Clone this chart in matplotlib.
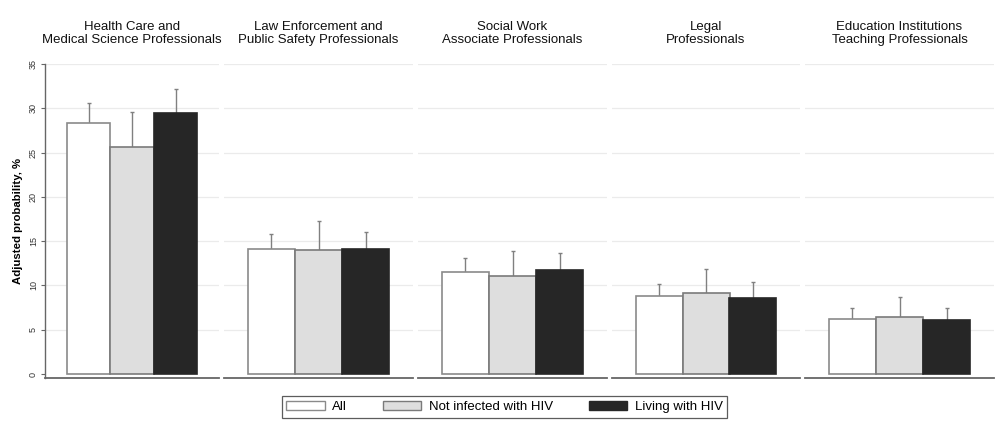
import matplotlib
matplotlib.use("Agg")
import matplotlib.pyplot as plt
from matplotlib.patches import Patch

plt.rcParams['font.family'] = ['Liberation Sans', 'DejaVu Sans']

# Occupation groups (panel titles)
occupations = [
    "Health Care and\nMedical Science Professionals",
    "Law Enforcement and\nPublic Safety Professionals",
    "Social Work\nAssociate Professionals",
    "Legal\nProfessionals",
    "Education Institutions\nTeaching Professionals",
]

series_names = ["All", "Not infected with HIV", "Living with HIV"]

# Adjusted probabilities (%) per occupation
all_vals = [28.3, 14.1, 11.5, 8.8, 6.2]
not_infected_vals = [25.6, 14.0, 11.1, 9.2, 6.4]
living_vals = [29.5, 14.1, 11.7, 8.6, 6.1]

# Upper confidence limits (%)
all_upper = [30.6, 15.8, 13.1, 10.2, 7.4]
not_infected_upper = [29.6, 17.3, 13.9, 11.9, 8.7]
living_upper = [32.2, 16.0, 13.7, 10.4, 7.5]

y_ticks = [0, 5, 10, 15, 20, 25, 30, 35]

values = [all_vals, not_infected_vals, living_vals]
uppers = [all_upper, not_infected_upper, living_upper]
fills = ["#ffffff", "#dedede", "#262626"]
edges = ["#8a8a8a", "#7a7a7a", "#262626"]

W, H = 998, 425
fig = plt.figure(figsize=(W / 100, H / 100), dpi=100)

# panel extents in pixels (left, right)
panel_px = [(45, 219), (224, 413), (418, 607), (612, 800), (805, 994)]
top_px, bottom_px = 64, 378

bar_w = 0.25
xs = [0.25, 0.5, 0.75]

for i, (l, r) in enumerate(panel_px):
    ax = fig.add_axes([l / W, 1 - bottom_px / H, (r - l) / W, (bottom_px - top_px) / H])
    ax.set_xlim(0, 1)
    ax.set_ylim(-0.45, 35)
    for g in y_ticks[1:]:
        ax.axhline(g, color="#ebebeb", lw=0.9, zorder=0)
    for s in range(3):
        v = values[s][i]
        u = uppers[s][i]
        ax.errorbar(xs[s], v, yerr=[[u - v], [u - v]], fmt="none",
                    ecolor="#808080", elinewidth=1.0, capsize=1.6,
                    capthick=1.0, zorder=1)
        ax.bar(xs[s], v, width=bar_w, color=fills[s], edgecolor=edges[s],
               linewidth=1.2, zorder=2)
    for sp in ["top", "right"]:
        ax.spines[sp].set_visible(False)
    ax.spines["bottom"].set_color("#666666")
    ax.spines["bottom"].set_linewidth(1.3)
    ax.set_xticks([])
    if i == 0:
        ax.spines["left"].set_color("#666666")
        ax.spines["left"].set_linewidth(1.0)
        ax.set_yticks(y_ticks)
        ax.set_yticklabels([str(t) for t in y_ticks], rotation=90,
                           va="center", fontsize=6.5, color="#333333")
        ax.tick_params(axis="y", length=3, width=0.8, color="#666666", pad=2)
        ax.set_ylabel("Adjusted probability, %", fontsize=8.2,
                      fontweight="bold", labelpad=4)
    else:
        ax.spines["left"].set_visible(False)
        ax.set_yticks([])
    fig.text((l + r) / 2 / W, 1 - 33.5 / H, occupations[i], ha="center",
             va="center", fontsize=9.5, linespacing=1.1, color="#111111")

handles = [Patch(facecolor=fills[s], edgecolor=edges[s], linewidth=1.0)
           for s in range(3)]
leg = fig.legend(handles, series_names, loc="center",
                 bbox_to_anchor=(504.5 / W, 1 - 407 / H), ncol=3,
                 fontsize=9.5, frameon=True, fancybox=False,
                 handlelength=2.9, handleheight=0.6, handletextpad=0.55,
                 columnspacing=2.75, borderpad=0.35, borderaxespad=0)
leg.get_frame().set_edgecolor("#333333")
leg.get_frame().set_linewidth(0.9)

fig.savefig("out.png", dpi=100)
